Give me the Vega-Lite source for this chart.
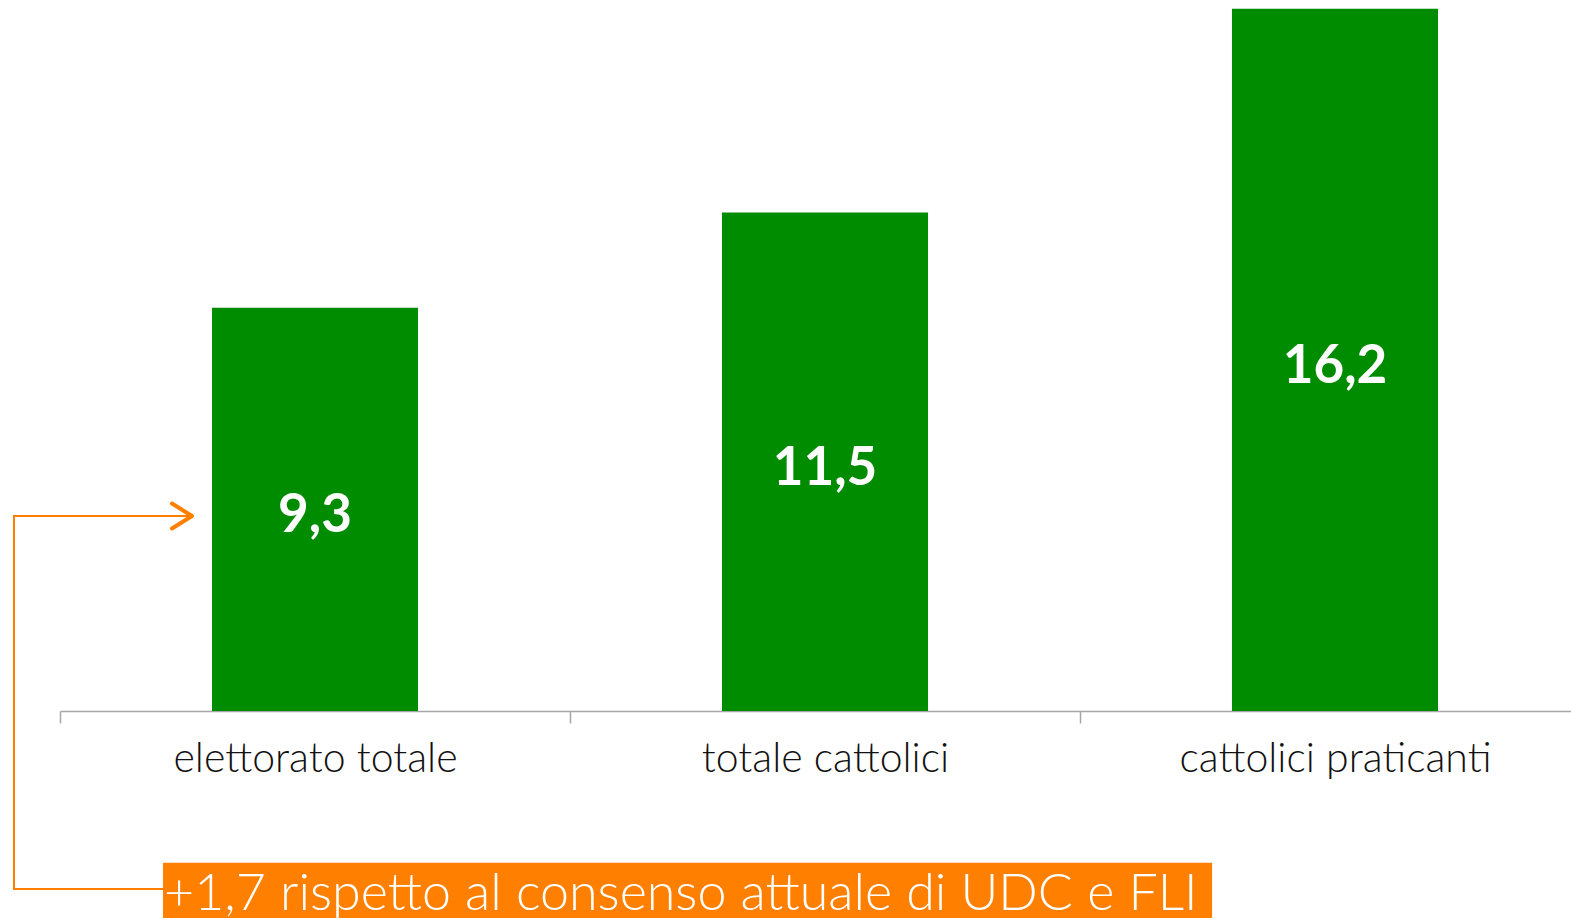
{
  "$schema": "https://vega.github.io/schema/vega-lite/v6.json",
  "width": 1511,
  "height": 711,
  "autosize": {"type": "none"},
  "padding": {"left": 60, "top": 0, "right": 0, "bottom": 207},
  "background": "white",
  "config": {"view": {"stroke": null}},
  "datasets": {
    "barre": [
      {"categoria": "elettorato totale", "valore": 9.3, "etichetta": "9,3"},
      {"categoria": "totale cattolici", "valore": 11.5, "etichetta": "11,5"},
      {"categoria": "cattolici praticanti", "valore": 16.2, "etichetta": "16,2"}
    ],
    "freccia": [
      {"ax": 0.2588, "ay": 4.498, "ordine": 0},
      {"ax": -0.0902, "ay": 4.498, "ordine": 1},
      {"ax": -0.0902, "ay": -4.106, "ordine": 2},
      {"ax": 0.204, "ay": -4.106, "ordine": 3}
    ],
    "punta": [{"ax": 0.2588, "ay": 4.498}],
    "nota": [
      {"x0": 0.202, "x1": 2.259, "y0": -3.5, "y1": -4.8, "tx": 0.204, "ty": -4.59, "testo": "+1,7 rispetto al consenso attuale di UDC e FLI"}
    ]
  },
  "layer": [
    {
      "data": {"name": "barre"},
      "mark": {"type": "bar", "color": "#008C00", "width": {"band": 0.404}},
      "encoding": {
        "x": {
          "field": "categoria", "type": "nominal", "sort": null,
          "scale": {"paddingInner": 0, "paddingOuter": 0, "range": [0, 1530]},
          "axis": {
            "title": null, "labelAngle": 0, "labelFontSize": 41, "labelFont": "Lato",
            "labelFontWeight": 300, "labelColor": "#111111", "labelPadding": 16, "labelLimit": 0,
            "domainColor": "#A6A6A6", "domainWidth": 1.5, "tickColor": "#A6A6A6",
            "tickWidth": 1.5, "tickSize": 12, "tickBand": "extent"
          }
        },
        "y": {"field": "valore", "type": "quantitative", "scale": {"domain": [0, 16.4], "nice": false}, "axis": null}
      }
    },
    {
      "data": {"name": "barre"},
      "transform": [{"calculate": "datum.valore / 2", "as": "meta"}],
      "mark": {"type": "text", "color": "white", "font": "Lato", "fontWeight": "bold", "fontSize": 53, "baseline": "middle", "align": "center", "dy": 7},
      "encoding": {
        "x": {"field": "categoria", "type": "nominal", "sort": null, "scale": {"paddingInner": 0, "paddingOuter": 0, "range": [0, 1530]}, "axis": null},
        "y": {"field": "meta", "type": "quantitative", "scale": {"domain": [0, 16.4], "nice": false}, "axis": null},
        "text": {"field": "etichetta"}
      }
    },
    {
      "data": {"name": "freccia"},
      "mark": {"type": "line", "color": "#FF7F00", "strokeWidth": 2},
      "encoding": {
        "x": {"field": "ax", "type": "quantitative", "scale": {"domain": [0, 3], "range": [0, 1530], "nice": false, "zero": false}, "axis": null},
        "y": {"field": "ay", "type": "quantitative", "scale": {"domain": [0, 16.4], "nice": false}, "axis": null},
        "order": {"field": "ordine"}
      }
    },
    {
      "data": {"name": "punta"},
      "mark": {"type": "point", "shape": "M-1.6,-1L0,0L-1.6,1", "size": 625, "filled": false, "color": "#FF7F00", "strokeWidth": 4, "strokeCap": "round", "strokeJoin": "round", "opacity": 1},
      "encoding": {
        "x": {"field": "ax", "type": "quantitative", "scale": {"domain": [0, 3], "range": [0, 1530], "nice": false, "zero": false}, "axis": null},
        "y": {"field": "ay", "type": "quantitative", "scale": {"domain": [0, 16.4], "nice": false}, "axis": null}
      }
    },
    {
      "data": {"name": "nota"},
      "mark": {"type": "rect", "color": "#FF7F00"},
      "encoding": {
        "x": {"field": "x0", "type": "quantitative", "scale": {"domain": [0, 3], "range": [0, 1530], "nice": false, "zero": false}, "axis": null},
        "x2": {"field": "x1"},
        "y": {"field": "y0", "type": "quantitative", "scale": {"domain": [0, 16.4], "nice": false}, "axis": null},
        "y2": {"field": "y1"}
      }
    },
    {
      "data": {"name": "nota"},
      "mark": {"type": "text", "color": "white", "font": "Lato", "fontWeight": 300, "fontSize": 52, "align": "left", "baseline": "alphabetic"},
      "encoding": {
        "x": {"field": "tx", "type": "quantitative", "scale": {"domain": [0, 3], "range": [0, 1530], "nice": false, "zero": false}, "axis": null},
        "y": {"field": "ty", "type": "quantitative", "scale": {"domain": [0, 16.4], "nice": false}, "axis": null},
        "text": {"field": "testo"}
      }
    }
  ],
  "resolve": {"scale": {"x": "independent"}}
}
